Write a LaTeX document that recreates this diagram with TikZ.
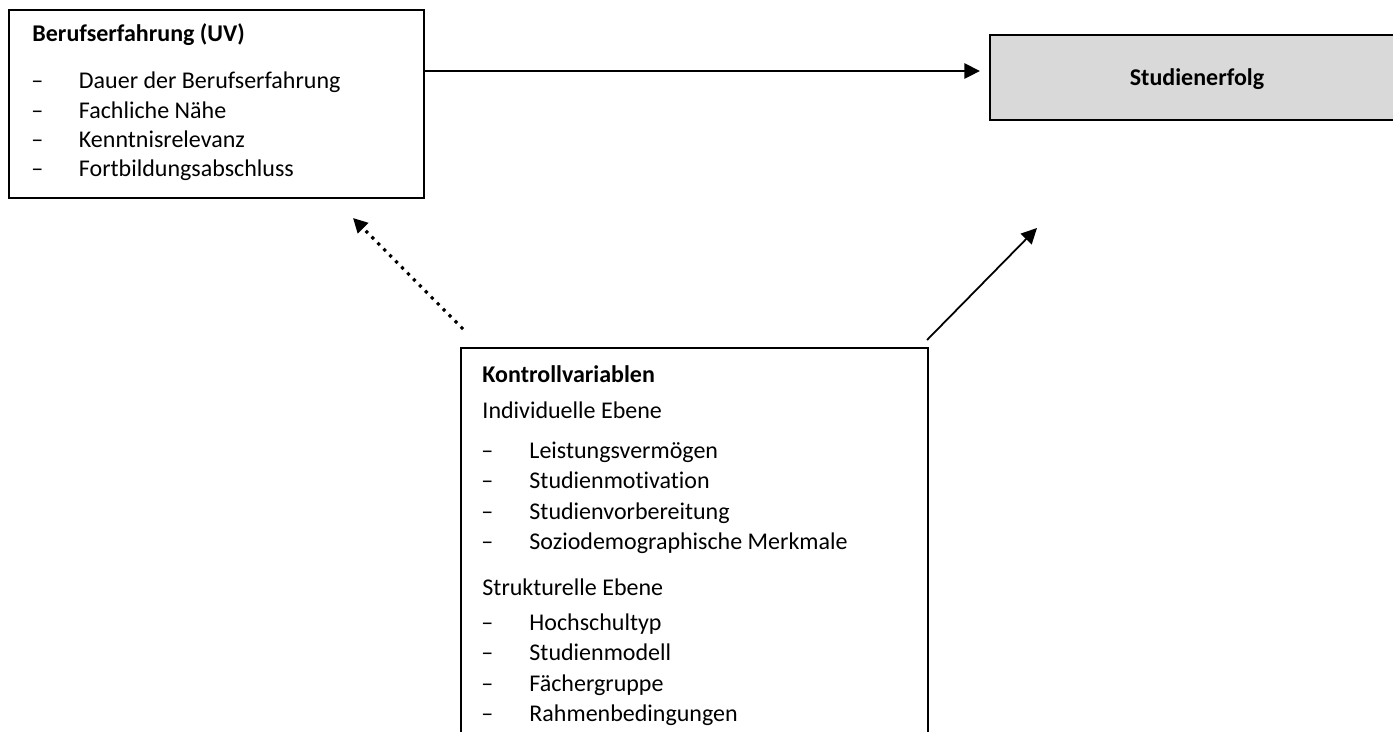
\documentclass[tikz,border=0pt]{standalone}
\usepackage{fontspec}
\setmainfont{Carlito}[Ligatures=NoCommon]
\usetikzlibrary{arrows.meta}
\begin{document}
\begin{tikzpicture}[x=0.45pt,y=-0.45pt,
  box/.style={inner sep=0pt, outer sep=0pt, line width=0.9pt, anchor=north west},
  txt/.style={anchor=base west, inner sep=0pt, font=\fontsize{10.8pt}{13pt}\selectfont},
  ttl/.style={anchor=base west, inner sep=0pt, font=\fontsize{10.8pt}{13pt}\selectfont\bfseries},
  arr/.style={line width=0.8pt, -{Triangle[length=7pt,width=6.8pt]}},
  dotarr/.style={line width=1.4pt, dash pattern=on 1.4pt off 2.4pt, -{Triangle[length=6.5pt,width=6.5pt]}}
]
\useasboundingbox (0,0) rectangle (1393,731);
% boxes
\node[box, draw, minimum width=186.75pt, minimum height=84.6pt] (b1) at (9,10) {};
\node[box, draw, fill={rgb,255:red,217;green,217;blue,217}, minimum width=184.5pt, minimum height=38.25pt] (b2) at (990,35) {};
\node[box, minimum width=210.15pt, minimum height=176.4pt] (b3) at (461,348) {};
\draw[line width=0.9pt] (b3.south west) -- (b3.north west) -- (b3.north east) -- (b3.south east);
% box 1 text
\node[ttl] (t1) at (32,41.5) {Berufserfahrung (UV)};
\node[txt] (d11) at (31,88) {–};    \node[txt] (i11) at (78.5,88) {Dauer der Berufserfahrung};
\node[txt] (d12) at (31,118) {–};   \node[txt] (i12) at (78.5,118) {Fachliche Nähe};
\node[txt] (d13) at (31,147.5) {–}; \node[txt] (i13) at (78.5,147.5) {Kenntnisrelevanz};
\node[txt] (d14) at (31,176.5) {–}; \node[txt] (i14) at (78.5,176.5) {Fortbildungsabschluss};
% box 2 text
\node[anchor=base, inner sep=0pt, font=\fontsize{10.8pt}{13pt}\selectfont\bfseries] (t2) at (1197,85) {Studienerfolg};
% box 3 text
\node[ttl] (t3) at (482,382.5) {Kontrollvariablen};
\node[txt] (h31) at (482,418) {Individuelle Ebene};
\node[txt] (d31) at (481,458) {–};   \node[txt] (i31) at (529,458) {Leistungsvermögen};
\node[txt] (d32) at (481,488.5) {–}; \node[txt] (i32) at (529,488.5) {Studienmotivation};
\node[txt] (d33) at (481,519) {–};   \node[txt] (i33) at (529,519) {Studienvorbereitung};
\node[txt] (d34) at (481,549.3) {–}; \node[txt] (i34) at (529,549.3) {Soziodemographische Merkmale};
\node[txt] (h32) at (482,595) {Strukturelle Ebene};
\node[txt] (d35) at (481,630) {–};   \node[txt] (i35) at (529,630) {Hochschultyp};
\node[txt] (d36) at (481,660) {–};   \node[txt] (i36) at (529,660) {Studienmodell};
\node[txt] (d37) at (481,691) {–};   \node[txt] (i37) at (529,691) {Fächergruppe};
\node[txt] (d38) at (481,721) {–};   \node[txt] (i38) at (529,721) {Rahmenbedingungen};
% connectors
\coordinate (a1e) at (980,71);
\coordinate (a2s) at (927,340);
\coordinate (a2e) at (1037,228);
\coordinate (a3s) at (463,329);
\coordinate (a3e) at (353,218);
\draw[arr] (b1.east |- a1e) -- (a1e);
\draw[arr] (a2s) -- (a2e);
\draw[dotarr] (a3s) -- (a3e);
\end{tikzpicture}
\end{document}
